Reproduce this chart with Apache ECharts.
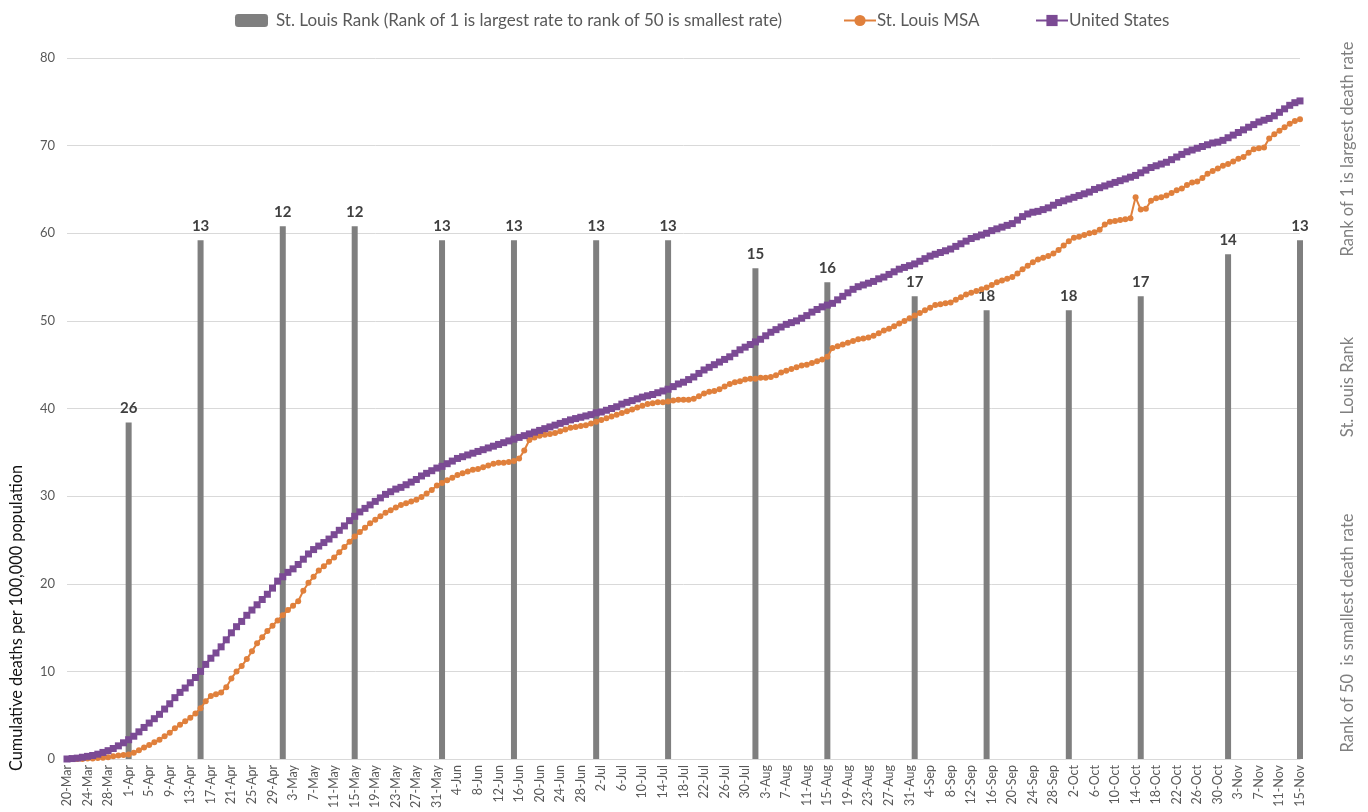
<!DOCTYPE html>
<html>
<head>
<meta charset="utf-8">
<script src="https://cdn.jsdelivr.net/npm/echarts@6/dist/echarts.min.js"></script>
<style>
  html, body { margin: 0; padding: 0; background: #fff; }
  #chart { width: 1368px; height: 812px; }
</style>
</head>
<body>
<div id="chart"></div>
<script>
// daily categories, 20-Mar to 15-Nov 2020
const monthNames = ['Jan', 'Feb', 'Mar', 'Apr', 'May', 'Jun', 'Jul', 'Aug', 'Sep', 'Oct', 'Nov', 'Dec']
const days = []
for (let t = Date.UTC(2020, 2, 20); t <= Date.UTC(2020, 10, 15); t += 86400000) {
  const d = new Date(t)
  days.push(d.getUTCDate() + '-' + monthNames[d.getUTCMonth()])
}

// St. Louis rank, sampled twice a month
const rankDates = ['1-Apr', '15-Apr', '1-May', '15-May', '1-Jun', '15-Jun', '1-Jul', '15-Jul',
  '1-Aug', '15-Aug', '1-Sep', '15-Sep', '1-Oct', '15-Oct', '1-Nov', '15-Nov']
const ranks = [26, 13, 12, 12, 13, 13, 13, 13, 15, 16, 17, 18, 18, 17, 14, 13]

// cumulative deaths per 100,000, St. Louis MSA
const stlMar = [0, 0, 0, 0, 0.05, 0.05, 0.1, 0.15, 0.2, 0.3, 0.4, 0.45]
const stlApr = [0.5, 0.7, 1.0, 1.3, 1.6, 1.9, 2.2, 2.6, 3.0, 3.5, 3.9, 4.3, 4.7, 5.2, 5.8,
  6.6, 7.2, 7.4, 7.6, 8.2, 9.2, 10.0, 10.6, 11.4, 12.3, 13.2, 13.9, 14.6, 15.2, 15.8]
const stlMay = [16.4, 17.0, 17.5, 18.0, 19.2, 20.1, 20.8, 21.5, 22.0, 22.5, 23.0, 23.6, 24.2, 24.8, 25.4,
  25.9, 26.4, 26.9, 27.3, 27.7, 28.1, 28.4, 28.7, 29.0, 29.2, 29.4, 29.6, 29.9, 30.3, 30.7, 31.2]
const stlJun = [31.5, 31.8, 32.1, 32.4, 32.6, 32.8, 33.0, 33.1, 33.3, 33.5, 33.7, 33.8, 33.8, 33.9, 34.0,
  34.3, 35.2, 36.4, 36.7, 36.9, 37.0, 37.1, 37.2, 37.4, 37.6, 37.8, 37.9, 38.0, 38.1, 38.3]
const stlJul = [38.5, 38.7, 38.9, 39.1, 39.3, 39.5, 39.7, 39.9, 40.1, 40.3, 40.5, 40.6, 40.7, 40.7, 40.8,
  40.9, 41.0, 41.0, 41.0, 41.1, 41.4, 41.7, 41.9, 42.0, 42.2, 42.5, 42.8, 43.0, 43.1, 43.3, 43.4]
const stlAug = [43.4, 43.5, 43.5, 43.6, 43.8, 44.1, 44.3, 44.5, 44.7, 44.9, 45.0, 45.2, 45.4, 45.6, 45.9,
  46.9, 47.1, 47.3, 47.5, 47.7, 47.9, 48.0, 48.1, 48.3, 48.6, 48.9, 49.1, 49.4, 49.7, 50.0, 50.3]
const stlSep = [50.6, 50.9, 51.2, 51.5, 51.8, 51.9, 52.0, 52.1, 52.4, 52.7, 53.0, 53.2, 53.4, 53.6, 53.8,
  54.1, 54.4, 54.6, 54.8, 55.0, 55.4, 55.9, 56.3, 56.7, 57.0, 57.2, 57.4, 57.7, 58.1, 58.6]
const stlOct = [59.1, 59.5, 59.6, 59.8, 60.0, 60.1, 60.4, 61.0, 61.3, 61.4, 61.5, 61.6, 61.7, 64.1, 62.7,
  62.8, 63.7, 64.0, 64.1, 64.3, 64.6, 64.9, 65.1, 65.5, 65.8, 65.9, 66.3, 66.8, 67.1, 67.4, 67.7]
const stlNov = [67.9, 68.2, 68.5, 68.7, 69.2, 69.6, 69.7, 69.8, 70.8, 71.3, 71.7, 72.1, 72.5, 72.8, 73.0]

// cumulative deaths per 100,000, United States
const usMar = [0, 0.05, 0.1, 0.2, 0.3, 0.4, 0.55, 0.75, 0.95, 1.2, 1.5, 1.85]
const usApr = [2.2, 2.6, 3.1, 3.6, 4.1, 4.6, 5.1, 5.7, 6.3, 7.0, 7.6, 8.1, 8.7, 9.3, 10.0,
  10.8, 11.5, 12.1, 12.8, 13.6, 14.4, 15.1, 15.7, 16.4, 17.0, 17.6, 18.2, 18.8, 19.5, 20.3]
const usMay = [20.8, 21.3, 21.7, 22.2, 22.8, 23.4, 23.9, 24.3, 24.7, 25.1, 25.6, 26.1, 26.6, 27.2, 27.7,
  28.2, 28.6, 29.0, 29.4, 29.8, 30.2, 30.5, 30.8, 31.0, 31.3, 31.6, 31.9, 32.3, 32.6, 32.9, 33.2]
const usJun = [33.4, 33.7, 34.0, 34.3, 34.5, 34.7, 34.9, 35.1, 35.3, 35.5, 35.7, 35.9, 36.1, 36.3, 36.5,
  36.7, 36.9, 37.1, 37.3, 37.5, 37.7, 37.9, 38.1, 38.3, 38.5, 38.7, 38.85, 39.0, 39.15, 39.3]
const usJul = [39.5, 39.6, 39.8, 40.0, 40.2, 40.5, 40.7, 40.9, 41.1, 41.3, 41.45, 41.6, 41.8, 42.0, 42.2,
  42.5, 42.8, 43.0, 43.3, 43.6, 44.0, 44.4, 44.7, 45.0, 45.3, 45.6, 45.9, 46.3, 46.7, 47.0, 47.3]
const usAug = [47.6, 47.9, 48.3, 48.7, 49.0, 49.3, 49.6, 49.8, 50.0, 50.3, 50.6, 51.0, 51.3, 51.6, 51.8,
  52.0, 52.4, 52.8, 53.2, 53.6, 53.9, 54.1, 54.3, 54.5, 54.8, 55.0, 55.3, 55.6, 55.9, 56.1, 56.3]
const usSep = [56.5, 56.8, 57.1, 57.4, 57.6, 57.8, 58.0, 58.2, 58.5, 58.8, 59.1, 59.4, 59.6, 59.8, 60.0,
  60.3, 60.5, 60.7, 60.9, 61.1, 61.5, 61.9, 62.2, 62.4, 62.5, 62.7, 62.9, 63.2, 63.5, 63.7]
const usOct = [63.9, 64.1, 64.3, 64.5, 64.7, 65.0, 65.2, 65.4, 65.6, 65.8, 66.0, 66.2, 66.4, 66.6, 66.9,
  67.2, 67.5, 67.7, 67.9, 68.1, 68.4, 68.7, 69.0, 69.3, 69.5, 69.7, 69.9, 70.1, 70.3, 70.4, 70.6]
const usNov = [70.9, 71.2, 71.5, 71.8, 72.1, 72.4, 72.7, 72.9, 73.1, 73.4, 73.8, 74.2, 74.6, 74.9, 75.1]

const stlSeries = [].concat(stlMar, stlApr, stlMay, stlJun, stlJul, stlAug, stlSep, stlOct, stlNov)
const usSeries = [].concat(usMar, usApr, usMay, usJun, usJul, usAug, usSep, usOct, usNov)

// bars rise from rank 50 at the bottom towards rank 0 at the top
const rankBars = days.map(d => {
  const i = rankDates.indexOf(d)
  return i < 0 ? '-' : 50 - ranks[i]
})

const rankName = 'St. Louis Rank (Rank of 1 is largest rate to rank of 50 is smallest rate)'
const font = 'Lato, "Open Sans", sans-serif'
const textGray = '#595959'
const gridGray = '#d9d9d9'
const orange = '#e0803c'
const purple = '#7b4a94'

const legendText = { color: textGray, fontSize: 17, fontFamily: font }

// right-hand titles of the hidden rank axis
const rightTitles = [
  { text: 'Rank of 1 is largest death rate', cy: 149 },
  { text: 'St. Louis Rank', cy: 387 },
  { text: 'Rank of 50  is smallest death rate', cy: 633 }
]
const leftTitle = { text: 'Cumulative deaths per 100,000 population', cx: 17, cy: 618 }

const chart = echarts.init(document.getElementById('chart'))

chart.setOption({
  backgroundColor: '#fff',
  animation: false,
  textStyle: { fontFamily: font },
  legend: [
    {
      top: 7, left: 230, itemWidth: 33, itemHeight: 13,
      textStyle: Object.assign({ padding: [0, 0, 0, 3] }, legendText),
      data: [{ name: rankName, icon: 'roundRect' }]
    },
    {
      top: 7, left: 838, itemWidth: 32, itemHeight: 14,
      textStyle: Object.assign({ padding: [0, 0, 0, -4] }, legendText),
      data: ['St. Louis MSA']
    },
    {
      top: 7, left: 1030, itemWidth: 32, itemHeight: 14,
      textStyle: Object.assign({ padding: [0, 0, 0, -4] }, legendText),
      data: ['United States']
    }
  ],
  grid: { left: 67, right: 68, top: 58, bottom: 53 },
  xAxis: {
    type: 'category',
    data: days,
    boundaryGap: false,
    axisLine: { lineStyle: { color: gridGray } },
    axisTick: { show: false },
    axisLabel: {
      interval: 3,
      rotate: 90,
      color: textGray,
      fontSize: 12.5,
      fontFamily: font,
      margin: 6
    },
    splitLine: { show: false }
  },
  yAxis: [
    {
      type: 'value',
      min: 0,
      max: 80,
      interval: 10,
      axisLine: { show: false },
      axisTick: { show: false },
      axisLabel: { color: textGray, fontSize: 13, fontFamily: font, margin: 12 },
      splitLine: { lineStyle: { color: gridGray, width: 1 } }
    },
    {
      type: 'value',
      min: 0,
      max: 50,
      axisLine: { show: false },
      axisTick: { show: false },
      axisLabel: { show: false },
      splitLine: { show: false }
    }
  ],
  graphic: [
    {
      type: 'text',
      x: leftTitle.cx, y: leftTitle.cy,
      rotation: Math.PI / 2,
      style: {
        text: leftTitle.text, fill: '#111', fontSize: 16.3, fontFamily: font,
        align: 'center', verticalAlign: 'middle'
      }
    }
  ].concat(rightTitles.map(t => ({
    type: 'text',
    x: 1348, y: t.cy,
    rotation: Math.PI / 2,
    style: {
      text: t.text, fill: '#7f7f7f', fontSize: 16.5, fontFamily: font,
      align: 'center', verticalAlign: 'middle'
    }
  }))),
  series: [
    {
      name: rankName,
      type: 'bar',
      yAxisIndex: 1,
      data: rankBars,
      barWidth: 6,
      itemStyle: { color: '#7f7f7f' },
      label: {
        show: true,
        position: 'top',
        distance: 7,
        color: '#404040',
        fontWeight: 'bold',
        fontSize: 15,
        fontFamily: font,
        formatter: p => String(ranks[rankDates.indexOf(p.name)])
      },
      z: 1
    },
    {
      name: 'St. Louis MSA',
      type: 'line',
      data: stlSeries,
      symbol: 'circle',
      symbolSize: 6,
      showAllSymbol: true,
      lineStyle: { color: orange, width: 2 },
      itemStyle: { color: orange },
      z: 3
    },
    {
      name: 'United States',
      type: 'line',
      data: usSeries,
      symbol: 'rect',
      symbolSize: 7,
      showAllSymbol: true,
      lineStyle: { color: purple, width: 2 },
      itemStyle: { color: purple },
      z: 4
    }
  ]
})
</script>
</body>
</html>
